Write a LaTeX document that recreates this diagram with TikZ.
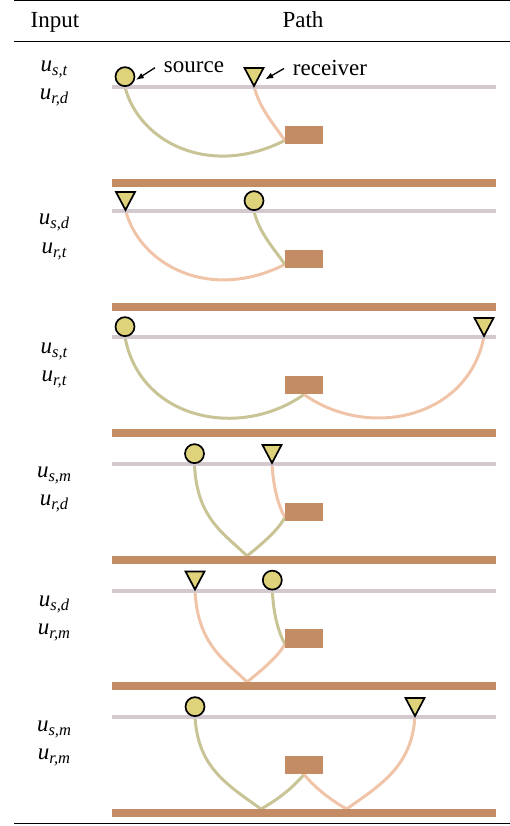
\documentclass[tikz,border=0pt]{standalone}
\usepackage{fontspec}
\setmainfont{Liberation Serif}
\usetikzlibrary{arrows.meta,backgrounds}

\definecolor{surfgray}{RGB}{213,201,208}
\definecolor{layerbrown}{RGB}{196,140,100}
\definecolor{srcray}{RGB}{200,196,150}
\definecolor{rcvray}{RGB}{240,196,168}
\definecolor{markfill}{RGB}{222,210,122}

\newcommand{\bigfont}{\fontsize{23}{27}\selectfont}
\newcommand{\uin}[2]{\textit{u}\raisebox{-4pt}{\fontsize{16.5}{18}\selectfont\itshape #1,#2}}

\begin{document}
\begin{tikzpicture}[x=1pt,y=-1pt,
    surf/.style={surfgray,line width=4pt},
    barfill/.style={fill=layerbrown},
    refl/.style={rectangle,fill=layerbrown,minimum width=38pt,minimum height=18.5pt,inner sep=0pt},
    src/.style={circle,draw=black,fill=markfill,line width=1.7pt,minimum size=19pt,inner sep=0pt,anchor=south},
    rcvmark/.style={draw=black,fill=markfill,line width=1.7pt},
    sray/.style={srcray,line width=3pt},
    rray/.style={rcvray,line width=3pt},
    inlbl/.style={font=\bigfont,anchor=base,inner sep=0pt},
    note/.style={font=\bigfont,anchor=base,inner sep=0pt,outer xsep=9pt},
    pointer/.style={-{Latex[length=8pt,width=6pt]},line width=1.3pt,shorten >=13pt}]
  \useasboundingbox (0,0) rectangle (510,826);

  % table rules and header
  \draw[line width=1.2pt] (14,0.6) -- (510,0.6);
  \draw[line width=1.2pt] (14,41.5) -- (510,41.5);
  \draw[line width=1.8pt] (14,823.5) -- (510,823.5);
  \node[inlbl] (hin) at (55,28) {Input};
  \node[inlbl] (hpath) at (303,28) {Path};

  % panel 1: direct source and receiver legs
  \node[inlbl] (in1a) at (54,72) {\uin{s}{t}};
  \node[inlbl] (in1b) at (54,100) {\uin{r}{d}};
  \draw[surf] (112,87) -- (496,87);
  \node[src] (src1) at (125,87) {};
  \coordinate (rcv1) at (254,86);
  \draw[rcvmark] (rcv1) -- ++(-9.5,-18) -- ++(19,0) -- cycle;
  \node[refl] (refl1) at (304,135) {};
  \begin{scope}[on background layer]
    \draw[sray] (src1.south) .. controls +(14,55) and +(-75,38) .. ([yshift=4pt]refl1.south west);
    \draw[rray] (rcv1) .. controls +(5,22) and +(-10,-15) .. ([yshift=4pt]refl1.south west);
  \end{scope}
  \node[note] (srctext) at (194,73) {source};
  \node[note] (rcvtext) at (330,76) {receiver};
  \draw[pointer] (srctext.west) -- (src1.south);
  \draw[pointer] (rcvtext.west) -- (rcv1);
  \fill[barfill] (112,179) rectangle (496,187);

  % panel 2
  \node[inlbl] (in2a) at (54,225) {\uin{s}{d}};
  \node[inlbl] (in2b) at (54,253) {\uin{r}{t}};
  \draw[surf] (112,211) -- (496,211);
  \coordinate (rcv2) at (125.5,210);
  \draw[rcvmark] (rcv2) -- ++(-9.5,-18) -- ++(19,0) -- cycle;
  \node[src] (src2) at (254,211) {};
  \node[refl] (refl2) at (304,259) {};
  \begin{scope}[on background layer]
    \draw[rray] (rcv2) .. controls +(14,55) and +(-75,38) .. ([yshift=4pt]refl2.south west);
    \draw[sray] (src2.south) .. controls +(5,22) and +(-10,-15) .. ([yshift=4pt]refl2.south west);
  \end{scope}
  \fill[barfill] (112,303) rectangle (496,311);

  % panel 3
  \node[inlbl] (in3a) at (54,353) {\uin{s}{t}};
  \node[inlbl] (in3b) at (54,381) {\uin{r}{t}};
  \draw[surf] (112,337) -- (496,337);
  \node[src] (src3) at (125,337) {};
  \coordinate (rcv3) at (484,336);
  \draw[rcvmark] (rcv3) -- ++(-9.5,-18) -- ++(19,0) -- cycle;
  \node[refl] (refl3) at (304,385) {};
  \begin{scope}[on background layer]
    \draw[sray] (src3.south) .. controls +(15,82) and +(-65,46) .. (refl3.south);
    \draw[rray] (rcv3) .. controls +(-15,82) and +(65,46) .. (refl3.south);
  \end{scope}
  \fill[barfill] (112,429) rectangle (496,437);

  % panel 4: source leg bounces off the layer below
  \node[inlbl] (in4a) at (54,477) {\uin{s}{m}};
  \node[inlbl] (in4b) at (54,505) {\uin{r}{d}};
  \draw[surf] (112,464) -- (496,464);
  \node[src] (src4) at (194.5,464) {};
  \coordinate (rcv4) at (272,463);
  \draw[rcvmark] (rcv4) -- ++(-9.5,-18) -- ++(19,0) -- cycle;
  \node[refl] (refl4) at (304,512) {};
  \coordinate (hit4) at (247,556);
  \begin{scope}[on background layer]
    \draw[sray] (src4.south) .. controls +(2,55) and +(-22,-22) .. (hit4);
    \draw[sray] (hit4) .. controls +(15,-12) and +(-6,12) .. ([yshift=4pt]refl4.south west);
    \draw[rray] (rcv4) .. controls +(1,20) and +(-8,-15) .. ([yshift=4pt]refl4.south west);
  \end{scope}
  \fill[barfill] (112,556) rectangle (496,564);

  % panel 5: receiver leg bounces
  \node[inlbl] (in5a) at (54,606) {\uin{s}{d}};
  \node[inlbl] (in5b) at (54,634) {\uin{r}{m}};
  \draw[surf] (112,590.5) -- (496,590.5);
  \coordinate (rcv5) at (195,589.5);
  \draw[rcvmark] (rcv5) -- ++(-9.5,-18) -- ++(19,0) -- cycle;
  \node[src] (src5) at (272.3,590.5) {};
  \node[refl] (refl5) at (304,638.5) {};
  \coordinate (hit5) at (247,682);
  \begin{scope}[on background layer]
    \draw[rray] (rcv5) .. controls +(2,55) and +(-22,-22) .. (hit5);
    \draw[rray] (hit5) .. controls +(15,-12) and +(-6,12) .. ([yshift=4pt]refl5.south west);
    \draw[sray] (src5.south) .. controls +(1,20) and +(-8,-15) .. ([yshift=4pt]refl5.south west);
  \end{scope}
  \fill[barfill] (112,682) rectangle (496,690);

  % panel 6: both legs bounce
  \node[inlbl] (in6a) at (54,731) {\uin{s}{m}};
  \node[inlbl] (in6b) at (54,759) {\uin{r}{m}};
  \draw[surf] (112,717) -- (496,717);
  \node[src] (src6) at (195,717) {};
  \coordinate (rcv6) at (415,716);
  \draw[rcvmark] (rcv6) -- ++(-9.5,-18) -- ++(19,0) -- cycle;
  \node[refl] (refl6) at (304,765) {};
  \coordinate (hit6a) at (261,809);
  \coordinate (hit6b) at (346.7,809);
  \begin{scope}[on background layer]
    \draw[sray] (src6.south) .. controls +(3,50) and +(-35,-25) .. (hit6a);
    \draw[sray] (hit6a) .. controls +(18,-10) and +(-10,12) .. (refl6.south);
    \draw[rray] (refl6.south) .. controls +(10,12) and +(-18,-10) .. (hit6b);
    \draw[rray] (hit6b) .. controls +(35,-25) and +(-3,50) .. (rcv6);
  \end{scope}
  \fill[barfill] (112,809) rectangle (496,817);
\end{tikzpicture}
\end{document}
